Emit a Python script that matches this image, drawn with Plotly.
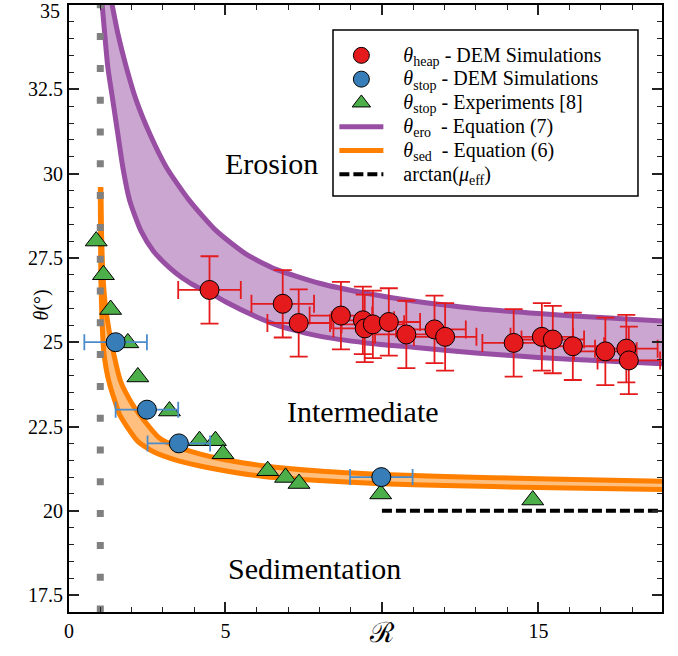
import plotly.graph_objects as go

# ---------------- data ----------------
red_R = [4.49, 6.83, 7.34, 8.69, 9.39, 9.45, 9.71, 10.22, 10.78, 11.68, 12.02,
         14.21, 15.11, 15.46, 16.10, 17.14, 17.81, 17.89]
red_th = [26.55, 26.14, 25.57, 25.79, 25.65, 25.41, 25.53, 25.60, 25.23, 25.38, 25.16,
          24.98, 25.16, 25.08, 24.88, 24.73, 24.81, 24.46]
red_R_err = [1.0] * len(red_R)
red_th_err = [1.0] * len(red_R)

blue_R = [1.49, 2.49, 3.51, 9.98]
blue_th = [25.0, 23.0, 22.0, 21.0]
blue_R_err = [1.0, 1.0, 1.0, 1.0]

green_R = [0.87, 1.10, 1.33, 1.88, 2.20, 3.21, 4.17, 4.68, 4.92, 6.35, 6.92, 7.35, 9.96, 14.82]
green_th = [28.0, 27.0, 25.97, 24.98, 23.97, 22.96, 22.08, 22.08, 21.69, 21.19, 20.99, 20.81, 20.5, 20.32]

ero_up_R = [1.32, 1.38, 1.56, 1.83, 2.15, 2.58, 3.11, 3.85, 4.71, 5.66, 6.62, 8.0, 9.5,
            11.0, 13.0, 15.0, 17.0, 19.0, 19.4]
ero_up_th = [35.3, 35.0, 34.16, 33.16, 32.17, 31.18, 30.19, 29.2, 28.3, 27.61, 27.16, 26.75,
             26.45, 26.22, 26.0, 25.85, 25.73, 25.63, 25.61]
ero_lo_R = [1.04, 1.06, 1.14, 1.24, 1.40, 1.56, 1.72, 1.94, 2.3, 2.7, 3.21, 3.6, 4.17, 4.49,
            5.0, 6.0, 6.73, 8.0, 9.5, 11.0, 13.0, 15.0, 17.0, 19.0, 19.4]
ero_lo_th = [35.3, 35.0, 34.16, 33.16, 32.17, 31.18, 30.19, 29.2, 28.3, 27.7, 27.21, 26.92,
             26.6, 26.48, 26.2, 25.75, 25.48, 25.18, 24.98, 24.85, 24.68, 24.55, 24.45, 24.36, 24.34]

sed_up_R = [1.02, 1.04, 1.07, 1.12, 1.2, 1.39, 1.65, 2.0, 2.26, 2.9, 3.5, 4.2, 4.9, 6.2,
            8.0, 10.0, 12.0, 15.0, 19.0, 19.4]
sed_up_th = [29.6, 28.2, 27.3, 26.5, 25.82, 24.83, 23.84, 23.2, 22.85, 22.15, 21.88, 21.68,
             21.53, 21.34, 21.18, 21.08, 21.02, 20.95, 20.88, 20.87]
sed_lo_R = [1.0, 1.01, 1.02, 1.05, 1.1, 1.19, 1.3, 1.45, 1.62, 1.85, 2.2, 2.7, 3.5, 4.5,
            6.2, 8.0, 10.0, 12.0, 15.0, 19.0, 19.4]
sed_lo_th = [29.6, 27.8, 26.8, 25.8, 24.83, 24.2, 23.75, 23.3, 22.85, 22.5, 22.06, 21.75,
             21.48, 21.27, 21.02, 20.9, 20.8, 20.75, 20.69, 20.63, 20.62]

mu_R = [10.0, 19.4]
mu_th = [20.0, 20.0]

vline_R = [1.0, 1.0]
vline_th = [35.11, 16.8]

x_tickvals = [0, 5, 10, 15]
x_ticktext = ["0", "5", "", "15"]
y_tickvals = [17.5, 20, 22.5, 25, 27.5, 30, 32.5, 35]
y_ticktext = ["17.5", "20", "22.5", "25", "27.5", "30", "32.5", ""]
top_label = "35"

# ---------------- styling ----------------
FONT = "Liberation Serif, Times New Roman, serif"
PURPLE = "#984ea3"
PURPLE_FILL = "rgba(152,78,163,0.5)"
ORANGE = "#ff7f00"
ORANGE_FILL = "rgba(255,127,0,0.5)"
RED = "#e41a1c"
BLUE = "#377eb8"
BLUE_ERR = "#4a8ccb"
GREEN = "#4daf4a"


def leg(txt):
    return '<span style="font-size:20px">\u00a0\u00a0\u00a0' + txt + '</span>'


fig = go.Figure()

# purple band (theta_ero)
fig.add_trace(go.Scatter(x=ero_up_R + ero_lo_R[::-1], y=ero_up_th + ero_lo_th[::-1],
                         fill="toself", fillcolor=PURPLE_FILL, mode="lines",
                         line=dict(width=0, shape="spline", smoothing=0.6),
                         showlegend=False, hoverinfo="skip"))
fig.add_trace(go.Scatter(x=ero_up_R, y=ero_up_th, mode="lines",
                         line=dict(color=PURPLE, width=5, shape="spline", smoothing=0.6),
                         name=leg("<i>θ</i><sub>ero</sub>\u00a0 - Equation (7)"), legendrank=4))
fig.add_trace(go.Scatter(x=ero_lo_R, y=ero_lo_th, mode="lines",
                         line=dict(color=PURPLE, width=5, shape="spline", smoothing=0.6),
                         showlegend=False))

# orange band (theta_sed)
fig.add_trace(go.Scatter(x=sed_up_R + sed_lo_R[::-1], y=sed_up_th + sed_lo_th[::-1],
                         fill="toself", fillcolor=ORANGE_FILL, mode="lines",
                         line=dict(width=0, shape="spline", smoothing=0.6),
                         showlegend=False, hoverinfo="skip"))
fig.add_trace(go.Scatter(x=sed_up_R, y=sed_up_th, mode="lines",
                         line=dict(color=ORANGE, width=5, shape="spline", smoothing=0.6),
                         name=leg("<i>θ</i><sub>sed</sub>\u00a0 - Equation (6)"), legendrank=5))
fig.add_trace(go.Scatter(x=sed_lo_R, y=sed_lo_th, mode="lines",
                         line=dict(color=ORANGE, width=5, shape="spline", smoothing=0.6),
                         showlegend=False))

# gray dotted vertical line at R = 1
fig.add_trace(go.Scatter(x=vline_R, y=vline_th, mode="lines",
                         line=dict(color="#808080", width=7, dash="7px,24.8px"),
                         showlegend=False))

# black dashed arctan(mu_eff)
fig.add_trace(go.Scatter(x=mu_R, y=mu_th, mode="lines",
                         line=dict(color="black", width=4, dash="10px,4px"),
                         name=leg("arctan(<i>μ</i><sub>eff</sub>)"), legendrank=6))

# green triangles
fig.add_trace(go.Scatter(x=green_R, y=green_th, mode="markers",
                         marker=dict(symbol="triangle-up", size=19, color=GREEN,
                                     line=dict(color="black", width=1)),
                         name=leg("<i>θ</i><sub>stop</sub> - Experiments [8]"), legendrank=3))

# red circles
fig.add_trace(go.Scatter(x=red_R, y=red_th, mode="markers",
                         marker=dict(symbol="circle", size=19, color=RED,
                                     line=dict(color="black", width=1)),
                         error_x=dict(type="data", array=red_R_err, color=RED, thickness=1.8, width=9),
                         error_y=dict(type="data", array=red_th_err, color=RED, thickness=1.8, width=9),
                         name=leg("<i>θ</i><sub>heap</sub> - DEM Simulations"), legendrank=1))

# blue circles
fig.add_trace(go.Scatter(x=blue_R, y=blue_th, mode="markers",
                         marker=dict(symbol="circle", size=19, color=BLUE,
                                     line=dict(color="black", width=1)),
                         error_x=dict(type="data", array=blue_R_err, color=BLUE_ERR, thickness=1.8, width=8),
                         name=leg("<i>θ</i><sub>stop</sub> - DEM Simulations"), legendrank=2))

# region labels
for txt, xr, yr in [("Erosion", 6.47, 30.3), ("Intermediate", 9.38, 22.95),
                    ("Sedimentation", 7.85, 18.3)]:
    fig.add_annotation(x=xr, y=yr, text=txt, showarrow=False,
                       font=dict(family=FONT, size=30, color="black"))

# axis titles as annotations
fig.add_annotation(x=10, y=-0.033, xref="x", yref="paper", text="ℛ", showarrow=False,
                   font=dict(family=FONT, size=28, color="black"), yanchor="middle")
fig.add_annotation(x=-0.069, y=0.506, xref="paper", yref="paper", text="<i>θ</i>(°)",
                   showarrow=False, textangle=-90,
                   font=dict(family=FONT, size=20, color="black"))
# top y tick label (kept inside the page)
fig.add_annotation(x=-0.012, y=0.99, xref="paper", yref="paper", text=top_label,
                   showarrow=False, xanchor="right", yanchor="middle",
                   font=dict(family=FONT, size=20, color="black"))

# legend frame (drawn as a shape so that its size matches the reference)
fig.add_shape(type="rect", xref="paper", yref="paper", x0=0.4452, x1=0.9595, y0=0.6853, y1=0.9588,
              line=dict(color="black", width=1.5), fillcolor="white", layer="above")

axis_common = dict(showline=True, linecolor="black", linewidth=2, mirror="allticks",
                   ticks="inside", ticklen=10, tickwidth=1.5, tickcolor="#222",
                   showgrid=False, zeroline=False, automargin=False,
                   tickfont=dict(family=FONT, size=20, color="black"))

fig.update_xaxes(range=[0, 18.95], tickmode="array", tickvals=x_tickvals, ticktext=x_ticktext,
                 minor=dict(ticks="inside", ticklen=5, tickwidth=1.2, dtick=1, tick0=0,
                            tickcolor="#222", showgrid=False),
                 **axis_common)
fig.update_yaxes(range=[17, 35], tickmode="array", tickvals=y_tickvals, ticktext=y_ticktext,
                 minor=dict(ticks="inside", ticklen=5, tickwidth=1.2, dtick=0.5, tick0=0,
                            tickcolor="#222", showgrid=False),
                 **axis_common)

fig.update_layout(
    width=678, height=656,
    margin=dict(l=69, r=16, t=5, b=44, autoexpand=False),
    paper_bgcolor="white", plot_bgcolor="white",
    font=dict(family=FONT, size=20, color="black"),
    legend=dict(x=0.4475, y=0.9449, xanchor="left", yanchor="top",
                bgcolor="rgba(255,255,255,0)", borderwidth=0,
                font=dict(family=FONT, size=16, color="black"),
                traceorder="normal", itemwidth=44),
)

fig.write_html("out.html", config={"displayModeBar": False},
               post_script="document.body.style.margin='0px';")
